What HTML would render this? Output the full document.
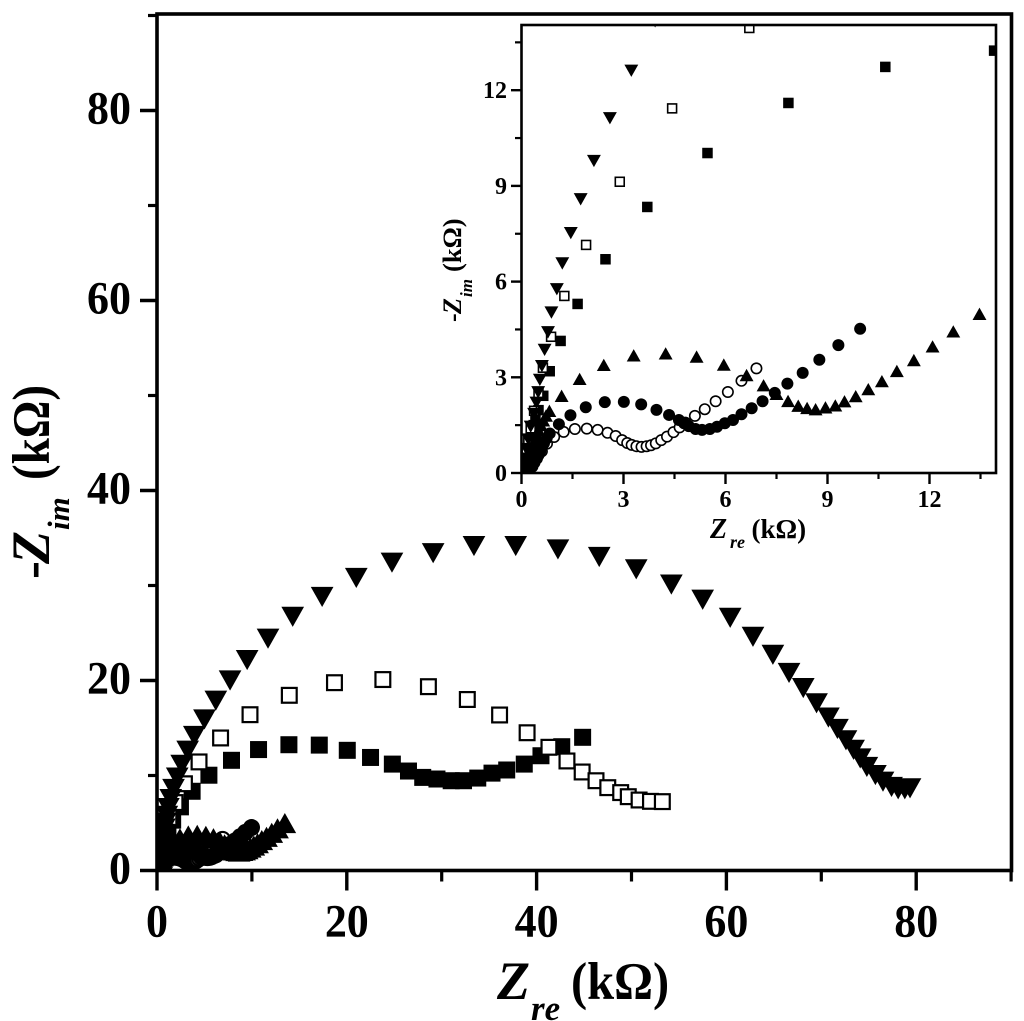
<!DOCTYPE html>
<html>
<head>
<meta charset="utf-8">
<style>
html,body{margin:0;padding:0;background:#fff;width:1024px;height:1021px;overflow:hidden}
svg{display:block}
text{font-family:"Liberation Serif",serif;font-weight:bold;fill:#000}
</style>
</head>
<body>
<svg id="chart" width="1024" height="1021" viewBox="0 0 1024 1021" xmlns="http://www.w3.org/2000/svg">
<defs>
<clipPath id="main-clip"><rect x="157" y="14" width="854.5" height="857"/></clipPath>
<clipPath id="inset-clip"><rect x="521" y="25" width="475" height="448"/></clipPath>
</defs>
<g id="main-axes"></g>
<g id="main-marks" clip-path="url(#main-clip)"></g>
<rect x="521" y="25" width="475" height="448" fill="#fff"/>
<g id="inset-axes"></g>
<g id="inset-marks" clip-path="url(#inset-clip)"></g>
<rect x="157" y="14" width="854.5" height="856.5" fill="none" stroke="#000" stroke-width="3.6"/>
<rect x="521.5" y="25" width="474.5" height="448" fill="none" stroke="#000" stroke-width="2.6"/>
<g>
  <text x="497" y="999" font-size="54" font-style="italic">Z</text>
  <text x="531" y="1020" font-size="35" font-style="italic">re</text>
  <text transform="translate(571,999) scale(1,1.1)" font-size="48.5">(kΩ)</text>
</g>
<g>
  <text transform="translate(49,579) rotate(-90)" font-size="54">-</text>
  <text transform="translate(49,564) rotate(-90)" font-size="54" font-style="italic">Z</text>
  <text transform="translate(69,530) rotate(-90)" font-size="31" font-style="italic">im</text>
  <text transform="translate(49,480) rotate(-90) scale(1,1.12)" font-size="47">(kΩ)</text>
</g>
<g>
  <text x="710" y="538" font-size="28" font-style="italic">Z</text>
  <text x="730" y="548" font-size="18" font-style="italic">re</text>
  <text x="751.5" y="538" font-size="27">(kΩ)</text>
</g>
<g>
  <text transform="translate(461,322) rotate(-90)" font-size="26">-</text>
  <text transform="translate(461,314) rotate(-90)" font-size="26" font-style="italic">Z</text>
  <text transform="translate(472,297) rotate(-90)" font-size="17" font-style="italic">im</text>
  <text transform="translate(461,272) rotate(-90)" font-size="26.5">(kΩ)</text>
</g>
</svg>
<script>
var filledSquareRe = [0.03,0.07,0.1,0.12,0.15,0.17,0.21,0.25,0.28,0.31,0.36,0.41,0.5,0.64,0.83,1.15,1.65,2.47,3.7,5.47,7.85,10.7,13.9,17.1,20.05,22.5,24.8,26.5,28,29.5,31,32.3,33.8,35.3,36.85,38.7,40.46,42.65,44.85];
var filledSquareIm = [0.05,0.2,0.32,0.45,0.6,0.75,0.9,1.05,1.2,1.35,1.5,1.66,1.97,2.42,3.19,4.14,5.3,6.7,8.34,10.03,11.6,12.73,13.24,13.2,12.65,11.9,11.2,10.47,9.8,9.63,9.45,9.45,9.73,10.25,10.58,11.2,12.08,13.03,14.02];

var openSquareRe = [0.06,0.1,0.15,0.2,0.27,0.37,0.5,0.63,0.87,1.26,1.9,2.89,4.43,6.7,9.8,13.94,18.7,23.8,28.6,32.7,36.1,39,41.3,43.2,44.8,46.26,47.5,48.86,49.66,50.8,52,53.25];
var openSquareIm = [0.2,0.45,0.75,1.05,1.4,1.95,2.5,3.3,4.27,5.55,7.15,9.13,11.43,13.95,16.4,18.44,19.77,20.1,19.35,18,16.37,14.5,12.97,11.53,10.37,9.45,8.72,8.2,7.77,7.42,7.28,7.25];

var downTriangleRe = [0.05,0.09,0.14,0.2,0.27,0.37,0.44,0.49,0.54,0.6,0.68,0.78,0.88,1.04,1.2,1.45,1.74,2.13,2.6,3.23,3.93,5,6.2,7.7,9.5,11.7,14.3,17.4,21,24.76,29.1,33.4,37.8,42.25,46.6,50.5,54.2,57.5,60.4,62.8,64.9,66.6,68.1,69.5,70.75,71.7,72.6,73.4,74.1,74.8,75.7,76.5,77.4,78.1,78.8,79.35];
var downTriangleIm = [0.2,0.45,0.75,1.05,1.45,1.85,2.2,2.53,2.92,3.35,3.86,4.41,5.03,5.76,6.57,7.52,8.58,9.78,11.12,12.61,14.16,15.9,17.87,20,22.15,24.4,26.7,28.8,30.8,32.4,33.4,34.15,34.15,33.8,33,31.7,30.1,28.5,26.6,24.6,22.7,20.8,19.2,17.6,16.1,14.9,13.7,12.7,11.8,10.9,10.05,9.35,8.8,8.55,8.55,8.65];

var upTriangleRe = [0.08,0.15,0.2,0.24,0.27,0.3,0.35,0.4,0.45,0.5,0.57,0.64,0.72,0.82,1.18,1.71,2.42,3.3,4.24,5.15,5.95,6.62,7.12,7.5,7.84,8.14,8.4,8.65,8.94,9.23,9.5,9.83,10.2,10.6,11.04,11.54,12.09,12.7,13.47];
var upTriangleIm = [0.08,0.2,0.32,0.45,0.6,0.75,0.9,1.05,1.2,1.35,1.5,1.65,1.8,1.95,2.42,2.95,3.39,3.69,3.75,3.65,3.4,3.07,2.75,2.48,2.26,2.11,2.04,2,2.06,2.12,2.25,2.41,2.63,2.88,3.2,3.54,3.97,4.44,4.99];

var filledCircleRe = [0.05,0.1,0.15,0.2,0.26,0.32,0.38,0.45,0.5,0.55,0.6,0.66,0.74,0.83,1.1,1.44,1.89,2.45,3.01,3.52,3.97,4.34,4.63,4.78,4.92,5.12,5.31,5.54,5.75,5.98,6.22,6.47,6.77,7.09,7.45,7.82,8.27,8.76,9.32,9.96];
var filledCircleIm = [0.02,0.05,0.08,0.12,0.16,0.2,0.32,0.45,0.56,0.68,0.8,0.93,1.08,1.24,1.53,1.81,2.06,2.22,2.23,2.15,1.98,1.82,1.66,1.56,1.47,1.38,1.35,1.38,1.45,1.56,1.66,1.84,2.03,2.25,2.51,2.8,3.14,3.55,4.01,4.52];

var openCircleRe = [0.3,0.45,0.6,0.75,0.96,1.24,1.57,1.92,2.24,2.53,2.77,2.96,3.11,3.24,3.38,3.53,3.68,3.81,3.95,4.11,4.28,4.47,4.65,4.82,5.1,5.39,5.71,6.07,6.47,6.91];
var openCircleIm = [0.2,0.45,0.68,0.92,1.13,1.29,1.38,1.39,1.35,1.26,1.16,1.03,0.94,0.88,0.84,0.82,0.84,0.87,0.93,1.03,1.14,1.28,1.43,1.58,1.79,2,2.25,2.54,2.89,3.28];

var mainTicks = [0,20,40,60,80];
var mainMinorTicks = [10,30,50,70,90];
var insetTicks = [0,3,6,9,12];
var insetMinorTicks = [1.5,4.5,7.5,10.5,13.5];

var NS = 'http://www.w3.org/2000/svg';
function mainX(v){ return 157 + v * 9.49; }
function mainY(v){ return 870.5 - v * 9.5; }
function insetX(v){ return 521.5 + v * 34; }
function insetY(v){ return 473 - v * 31.9; }

function shape(tag, attrs){
  var el = document.createElementNS(NS, tag);
  for (var k in attrs) el.setAttribute(k, attrs[k]);
  return el;
}
function drawMarker(parent, kind, x, y, s, sw, name){
  var el;
  if (kind === 'filled-square' || kind === 'open-square') {
    var open = kind === 'open-square';
    var w = open ? s - sw : s;
    el = shape('rect', {x: x - w / 2, y: y - w / 2, width: w, height: w,
      fill: open ? '#fff' : '#000', stroke: open ? '#000' : 'none', 'stroke-width': sw});
  } else if (kind === 'filled-circle' || kind === 'open-circle') {
    var oc = kind === 'open-circle';
    el = shape('circle', {cx: x, cy: y, r: oc ? (s - sw) / 2 : s / 2,
      fill: oc ? '#fff' : '#000', stroke: oc ? '#000' : 'none', 'stroke-width': sw});
  } else {
    var hw = s * 0.62, hh = s * 0.55;
    var pts = kind === 'up-triangle'
      ? [[x, y - hh], [x + hw, y + hh], [x - hw, y + hh]]
      : [[x, y + hh], [x + hw, y - hh], [x - hw, y - hh]];
    el = shape('polygon', {points: pts.map(function(p){ return p[0] + ',' + p[1]; }).join(' '), fill: '#000'});
  }
  
  
  parent.appendChild(el);
}
function drawSeries(parent, kind, re, im, fx, fy, s, sw, prefix){
  var group = document.createElementNS(NS, 'g');
  
  
  for (var i = 0; i < re.length; i++) {
    drawMarker(group, kind, fx(re[i]), fy(im[i]), s, sw, prefix + '-point-' + kind);
  }
  parent.appendChild(group);
}
function drawTick(parent, x1, y1, x2, y2, w, name){
  var l = shape('line', {x1: x1, y1: y1, x2: x2, y2: y2, stroke: '#000', 'stroke-width': w});
  
  
  parent.appendChild(l);
}
function drawLabel(parent, x, y, txt, size, anchor, stretch, name){
  var t = shape('text', {transform: 'translate(' + x + ',' + y + ') scale(1,' + stretch + ')', 'font-size': size, 'text-anchor': anchor});
  t.textContent = txt;
  
  
  parent.appendChild(t);
}

var mainAxes = document.getElementById('main-axes');
mainTicks.forEach(function(v){
  drawTick(mainAxes, mainX(v), 870, mainX(v), 890.5, 3.4, 'x-axis-major-tick');
  drawTick(mainAxes, 157, mainY(v), 140, mainY(v), 3.4, 'y-axis-major-tick');
  drawLabel(mainAxes, mainX(v), 936.5, String(v), 44, 'middle', 1.07, 'x-axis-tick-label');
  drawLabel(mainAxes, 131, mainY(v) + 13, String(v), 44, 'end', 1.07, 'y-axis-tick-label');
});
mainMinorTicks.forEach(function(v){
  drawTick(mainAxes, Math.min(mainX(v), 1011.5), 870, Math.min(mainX(v), 1011.5), 881.5, 3.2, 'x-axis-minor-tick');
  drawTick(mainAxes, 157, mainY(v), 148, mainY(v), 3.2, 'y-axis-minor-tick');
});

var insetAxes = document.getElementById('inset-axes');
insetTicks.forEach(function(v){
  drawTick(insetAxes, insetX(v), 473, insetX(v), 484, 2.4, 'inset-x-major-tick');
  drawTick(insetAxes, 521.5, insetY(v), 511, insetY(v), 2.4, 'inset-y-major-tick');
  drawLabel(insetAxes, insetX(v), 507, String(v), 24, 'middle', 1, 'inset-x-tick-label');
  drawLabel(insetAxes, 507, insetY(v) + 8, String(v), 24, 'end', 1, 'inset-y-tick-label');
});
insetMinorTicks.forEach(function(v){
  drawTick(insetAxes, insetX(v), 473, insetX(v), 479, 2.2, 'inset-x-minor-tick');
  drawTick(insetAxes, 521.5, insetY(v), 515, insetY(v), 2.2, 'inset-y-minor-tick');
});

var mainMarks = document.getElementById('main-marks');
var insetMarks = document.getElementById('inset-marks');
var order = [
  ['filled-square', filledSquareRe, filledSquareIm],
  ['open-square', openSquareRe, openSquareIm],
  ['open-circle', openCircleRe, openCircleIm],
  ['filled-circle', filledCircleRe, filledCircleIm],
  ['up-triangle', upTriangleRe, upTriangleIm],
  ['down-triangle', downTriangleRe, downTriangleIm]
];
order.forEach(function(o){
  var isTri = o[0].indexOf('triangle') >= 0;
  drawSeries(mainMarks, o[0], o[1], o[2], mainX, mainY, isTri ? 18.3 : 17, 2.2, 'main');
  drawSeries(insetMarks, o[0], o[1], o[2], insetX, insetY, isTri ? 11.2 : (o[0].indexOf('circle') >= 0 ? 12 : 10.5), 1.6, 'inset');
});
</script>
</body>
</html>
